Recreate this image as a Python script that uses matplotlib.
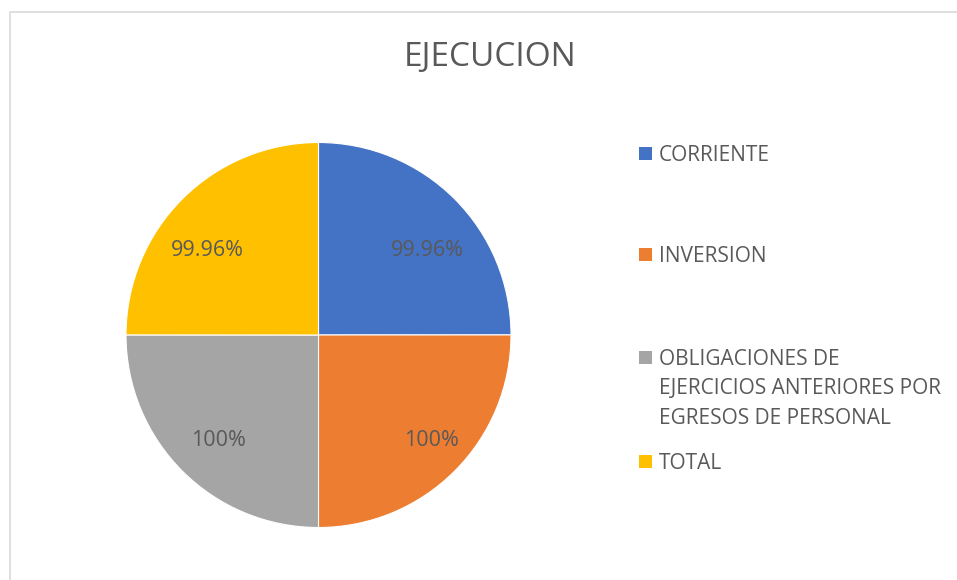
import matplotlib
matplotlib.use("Agg")
import matplotlib.pyplot as plt
from matplotlib.patches import Rectangle

categories = ["CORRIENTE", "INVERSION",
              "OBLIGACIONES DE\nEJERCICIOS ANTERIORES POR\nEGRESOS DE PERSONAL", "TOTAL"]
values = [99.96, 100, 100, 99.96]
value_labels = ["99.96%", "100%", "100%", "99.96%"]
colors = ["#4472C4", "#ED7D31", "#A5A5A5", "#FFC000"]

W, H = 957, 580
fig = plt.figure(figsize=(W / 100, H / 100), dpi=100)
plt.rcParams['font.family'] = ['Open Sans', 'DejaVu Sans']

# chart border
fig.add_artist(Rectangle((10 / W, -0.1), 1.2, (H - 12) / H + 0.1, transform=fig.transFigure,
                         fill=False, edgecolor="#D9D9D9", linewidth=1.2))

cx, cy, r = 318.5, 335, 192.5
ax = fig.add_axes([(cx - r) / W, (H - cy - r) / H, 2 * r / W, 2 * r / H])
wedges, texts = ax.pie(values, colors=colors, startangle=90, counterclock=False,
                       radius=1, wedgeprops=dict(edgecolor="white", linewidth=0.8))
ax.set_xlim(-1, 1)
ax.set_ylim(-1, 1)
ax.set_aspect("auto")
ax.axis("off")

# label placement (fraction of radius) per quadrant
label_pos = [(0.565, 0.437), (0.585, -0.55), (-0.52, -0.55), (-0.578, 0.437)]
for (lx, ly), lab in zip(label_pos, value_labels):
    ax.text(lx, ly, lab, ha="center", va="center", fontsize=15.5, color="#595959")

fig.text(490 / W, 1 - 57 / H, "EJECUCION", ha="center", va="center",
         fontsize=24, color="#595959")

legend_y = [153, 254, 357, 461]
for cat, col, y in zip(categories, colors, legend_y):
    fig.add_artist(Rectangle((639 / W, 1 - (y + 6.5) / H), 13 / W, 13 / H,
                             transform=fig.transFigure, facecolor=col, edgecolor="none"))
    fig.text(659 / W, 1 - (y - 8) / H, cat, ha="left", va="top", fontsize=15,
             color="#595959", linespacing=1.52)

fig.savefig("out.png", dpi=100, facecolor="white")
